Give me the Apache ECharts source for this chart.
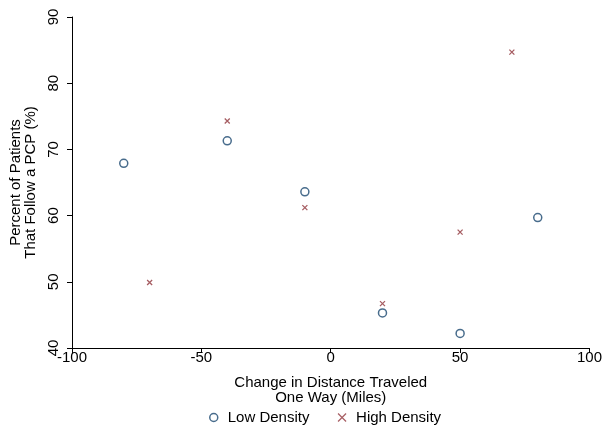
<!DOCTYPE html>
<html><head><meta charset="utf-8">
<script src="https://cdn.jsdelivr.net/npm/echarts@6/dist/echarts.min.js"></script>
<style>html,body{margin:0;padding:0;background:#fff}#c{width:605px;height:431px}</style>
</head><body><div id="c"></div>
<script>
const lowDensity = [[-80, 67.9], [-40, 71.3], [-10, 63.6], [20, 45.3], [50, 42.2], [80, 59.7]];
const highDensity = [[-70, 49.9], [-40, 74.3], [-10, 61.2], [20, 46.7], [50, 57.5], [70, 84.7]];
const seriesNames = ['Low Density', 'High Density'];
const xTitle = 'Change in Distance Traveled\nOne Way (Miles)';
const yTitle = 'Percent of Patients\nThat Follow a PCP (%)';

const FONT = 'Liberation Sans, Arial, sans-serif';
const FS = 15;
const xMark = 'path://M0,0L10,10M10,0L0,10';
const chart = echarts.init(document.getElementById('c'));
chart.setOption({
  animation: false,
  backgroundColor: '#fff',
  textStyle: {fontFamily: FONT},
  grid: {left: 72, right: 14, top: 17, bottom: 83},
  xAxis: {
    type: 'value', min: -100, max: 100, interval: 50,
    name: xTitle, nameLocation: 'middle', nameGap: 27,
    nameTextStyle: {color: '#000', fontSize: FS, fontFamily: FONT, lineHeight: 15},
    axisLine: {onZero: false, lineStyle: {color: '#000', width: 1}},
    axisTick: {lineStyle: {color: '#000'}, length: 5},
    axisLabel: {color: '#000', fontSize: FS, fontFamily: FONT, margin: 2},
    splitLine: {show: false}
  },
  yAxis: {
    type: 'value', min: 40, max: 90, interval: 10,
    name: yTitle, nameLocation: 'middle', nameGap: 29, nameRotate: 90,
    nameTextStyle: {color: '#000', fontSize: FS, fontFamily: FONT, lineHeight: 15},
    axisLine: {show: true, onZero: false, lineStyle: {color: '#000', width: 1}},
    axisTick: {show: true, lineStyle: {color: '#000'}, length: 5},
    axisLabel: {color: '#000', fontSize: FS, fontFamily: FONT, rotate: 90, margin: 11},
    splitLine: {show: false}
  },
  legend: {
    bottom: 1, left: 204, itemGap: 28, itemWidth: 10, itemHeight: 8,
    textStyle: {color: '#000', fontSize: FS, fontFamily: FONT, padding: [0, 0, 0, 4]},
    data: [
      {name: seriesNames[0], icon: 'circle', itemStyle: {color: '#fff', borderColor: '#1a476f', borderWidth: 1.5}},
      {name: seriesNames[1], icon: xMark, itemStyle: {color: '#90353b', borderColor: '#90353b', borderWidth: 1.2}}
    ]
  },
  series: [
    {name: seriesNames[0], type: 'scatter', data: lowDensity, symbol: 'circle', symbolSize: 8,
     itemStyle: {color: '#fff', borderColor: '#1a476f', borderWidth: 1.5}},
    {name: seriesNames[1], type: 'scatter', data: highDensity, symbol: xMark, symbolSize: 5,
     itemStyle: {color: '#90353b', borderColor: '#90353b', borderWidth: 1.3}}
  ]
});
</script></body></html>
